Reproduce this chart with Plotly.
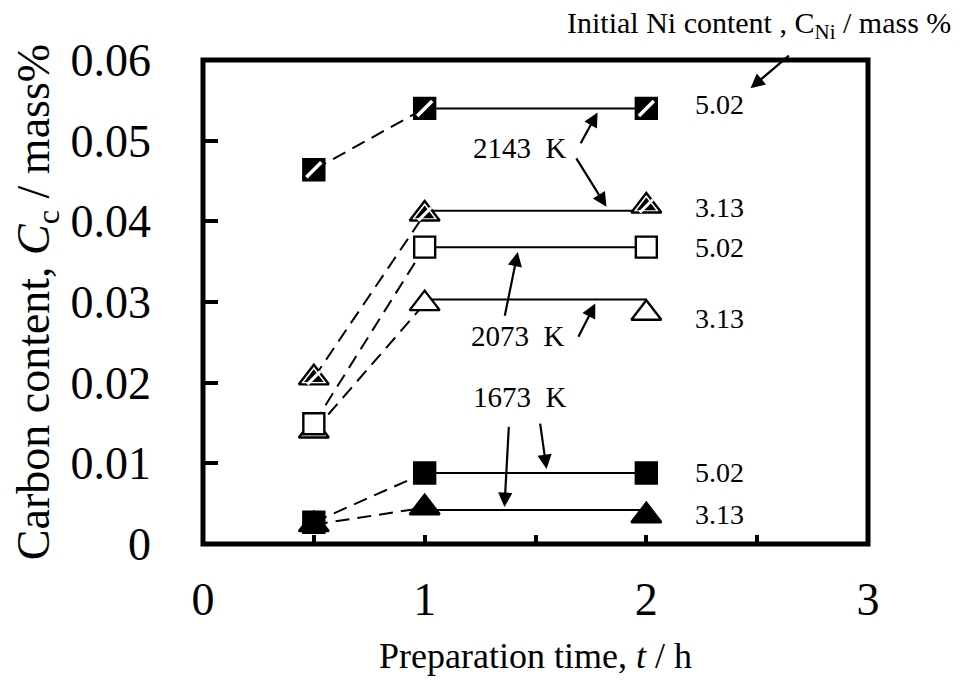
import plotly.graph_objects as go

# Preparation time, h
times = [0.5, 1.0, 2.0]

# Carbon content (mass%) measured at each preparation time
c_2143_502 = [0.0464, 0.0540, 0.0540]
c_2143_313 = [0.0206, 0.0409, 0.0419]
c_2073_502 = [0.0149, 0.0368, 0.0368]
c_2073_313 = [0.0140, 0.0298, 0.0286]
c_1673_502 = [0.0027, 0.0088, 0.0088]
c_1673_313 = [0.0024, 0.0045, 0.0035]

# Plateau level drawn between 1 h and 2 h for each series
plateau_x = [1.0, 2.0]
plateau = {
    "2143_502": 0.0540,
    "2143_313": 0.0413,
    "2073_502": 0.0368,
    "2073_313": 0.0303,
    "1673_502": 0.0088,
    "1673_313": 0.0042,
}

# Initial Ni content labels at the right-hand end of each series
ni_labels = ["5.02", "3.13", "5.02", "3.13", "5.02", "3.13"]
ni_label_y = [0.0545, 0.0417, 0.0368, 0.0280, 0.0089, 0.0036]

x_ticks = [0, 1, 2, 3]
x_ticktext = ["0", "1", "2", "3"]
x_minor_ticks = [0.5, 1.5, 2.5]
y_ticks = [0, 0.01, 0.02, 0.03, 0.04, 0.05, 0.06]
y_ticktext = ["0", "0.01", "0.02", "0.03", "0.04", "0.05", "0.06"]

FONT = "Times New Roman, Liberation Serif, serif"
BLACK = "#000000"

fig = go.Figure()

series = [
    ("2143_313", c_2143_313, "hatched_tri"),
    ("2073_313", c_2073_313, "open_tri"),
    ("1673_313", c_1673_313, "filled_tri"),
    ("2143_502", c_2143_502, "hatched_sq"),
    ("2073_502", c_2073_502, "open_sq"),
    ("1673_502", c_1673_502, "filled_sq"),
]

# connecting lines first so markers sit on top
for key, ys, style in series:
    fig.add_trace(go.Scatter(
        x=times[:2], y=ys[:2], mode="lines",
        line=dict(color=BLACK, width=2, dash="14px,8px"),
        hoverinfo="skip", showlegend=False))
    fig.add_trace(go.Scatter(
        x=plateau_x, y=[plateau[key]] * 2, mode="lines",
        line=dict(color=BLACK, width=2),
        hoverinfo="skip", showlegend=False))

for key, ys, style in series:
    if style.endswith("tri"):
        symbol, size = "triangle-up", 26
    else:
        symbol, size = "square", 21
    if style.startswith("open"):
        fill = "white"
    elif style.startswith("filled"):
        fill = BLACK
    else:
        fill = "white" if style.endswith("tri") else BLACK
    fig.add_trace(go.Scatter(
        x=times, y=ys, mode="markers", name=key,
        marker=dict(symbol=symbol, size=size, color=fill,
                    line=dict(color=BLACK, width=2.4)),
        showlegend=False))
    if style.startswith("hatched"):
        if style.endswith("tri"):
            # dark hatching inside the triangle
            fig.add_trace(go.Scatter(
                x=times, y=ys, mode="markers",
                marker=dict(symbol="triangle-up", size=17, color=BLACK,
                            line=dict(width=0)),
                hoverinfo="skip", showlegend=False))
            fig.add_trace(go.Scatter(
                x=times, y=ys, mode="markers",
                marker=dict(symbol="line-ne", size=13,
                            line=dict(color="white", width=3)),
                hoverinfo="skip", showlegend=False))
        else:
            fig.add_trace(go.Scatter(
                x=times, y=ys, mode="markers",
                marker=dict(symbol="line-ne", size=15,
                            line=dict(color="white", width=3.5)),
                hoverinfo="skip", showlegend=False))

annotations = []

# Ni content labels
for lab, ly in zip(ni_labels, ni_label_y):
    annotations.append(dict(x=2.33, y=ly, xref="x", yref="y", text=lab,
                            showarrow=False, font=dict(size=28, color=BLACK, family=FONT)))

# Temperature labels with arrows
temp_labels = [
    ("2143  K", 1.43, 0.0491, [(1.70, 0.0495, 1.78, 0.0535), (1.68, 0.0480, 1.82, 0.0418)]),
    ("2073  K", 1.42, 0.0258, [(1.36, 0.0281, 1.42, 0.0362), (1.69, 0.0255, 1.77, 0.0298)]),
    ("1673  K", 1.43, 0.0182, [(1.38, 0.0147, 1.36, 0.0046), (1.52, 0.0151, 1.55, 0.0093)]),
]
for txt, tx, ty, arrows in temp_labels:
    annotations.append(dict(x=tx, y=ty, xref="x", yref="y", text=txt, showarrow=False,
                            font=dict(size=29, color=BLACK, family=FONT)))
    for ax, ay, hx, hy in arrows:
        annotations.append(dict(x=hx, y=hy, ax=ax, ay=ay, xref="x", yref="y",
                                axref="x", ayref="y", text="", showarrow=True,
                                arrowhead=2, arrowsize=1.3, arrowwidth=2.2,
                                arrowcolor=BLACK, standoff=0, startstandoff=0))

# Initial Ni content heading with its arrow
annotations.append(dict(x=1.0, y=1.0, xref="paper", yref="paper", yshift=35,
                        xanchor="right", yanchor="middle", xshift=85,
                        text="Initial Ni content , C<sub>Ni</sub> / mass %",
                        showarrow=False, font=dict(size=30, color=BLACK, family=FONT)))
annotations.append(dict(x=2.47, y=0.0565, ax=2.65, ay=0.0607, xref="x", yref="y",
                        axref="x", ayref="y", text="", showarrow=True,
                        arrowhead=2, arrowsize=1.3, arrowwidth=2.2, arrowcolor=BLACK,
                        standoff=0, startstandoff=0))

fig.update_layout(
    width=961, height=698,
    margin=dict(l=203, r=93, t=60, b=154),
    paper_bgcolor="white", plot_bgcolor="white",
    font=dict(family=FONT, color=BLACK),
    annotations=annotations,
    shapes=[dict(type="rect", xref="paper", yref="paper", x0=0, y0=0, x1=1, y1=1,
                 line=dict(color=BLACK, width=5), layer="above")],
)

fig.update_xaxes(
    range=[0, 3], tickvals=x_ticks, ticktext=x_ticktext,
    ticks="inside", ticklen=9, tickwidth=4, tickcolor=BLACK,
    minor=dict(tickvals=x_minor_ticks, ticks="inside", ticklen=9, tickwidth=4,
               tickcolor=BLACK, showgrid=False),
    showgrid=False, zeroline=False, showline=False,
    tickfont=dict(size=46, family=FONT, color=BLACK), ticklabelstandoff=24,
    title=dict(text="Preparation time, <i>t</i> / h",
               font=dict(size=36, family=FONT, color=BLACK), standoff=18),
)
fig.update_yaxes(
    range=[0, 0.06], tickvals=y_ticks, ticktext=y_ticktext,
    ticks="inside", ticklen=15, tickwidth=4, tickcolor=BLACK,
    showgrid=False, zeroline=False, showline=False,
    tickfont=dict(size=46, family=FONT, color=BLACK), ticklabelstandoff=51,
    title=dict(text="Carbon content, <i>C</i><sub>c</sub> / mass%",
               font=dict(size=46, family=FONT, color=BLACK), standoff=6),
)

fig.write_html("out.html")
